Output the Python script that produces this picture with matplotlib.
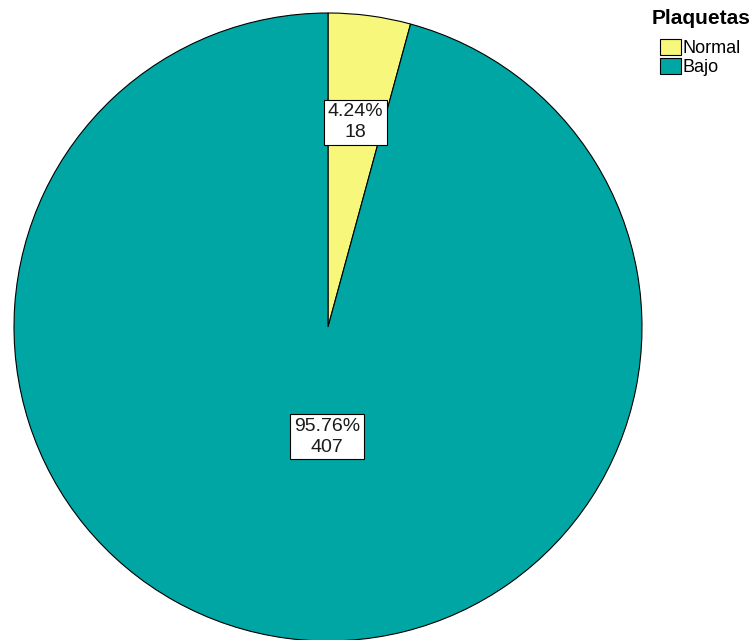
import numpy as np
import matplotlib
matplotlib.use("Agg")
import matplotlib.pyplot as plt
from matplotlib.patches import Patch

plt.rcParams['font.family'] = ['Liberation Sans', 'DejaVu Sans']

# Plaquetas: conteos por categoria
categorias = ['Normal', 'Bajo']
conteos = [18, 407]
porcentajes = [4.24, 95.76]
colores = ['#F7F77C', '#00A6A3']

fig = plt.figure(figsize=(7.56, 6.40), dpi=100)
ax = fig.add_axes([14 / 756, -1 / 640, 628 / 756, 628 / 640])

wedges, _ = ax.pie(conteos, colors=colores, startangle=90, counterclock=False,
                   radius=1.0, wedgeprops=dict(edgecolor='black', linewidth=0.8))
ax.set_xlim(-1, 1)
ax.set_ylim(-1, 1)
ax.set_aspect('equal')
ax.axis('off')

# etiquetas con porcentaje y conteo dentro de cada sector
# (distancia al centro, ajuste de angulo en grados)
ubicacion = [(0.658, 0.0), (0.35, 7.1)]
for w, pct, n, (d, dang) in zip(wedges, porcentajes, conteos, ubicacion):
    ang = np.deg2rad((w.theta1 + w.theta2) / 2 + dang)
    ax.text(d * np.cos(ang), d * np.sin(ang), f'{pct:.2f}%\n{n}',
            ha='center', va='center', fontsize=14, linespacing=1.3,
            color='#1a1a1a',
            bbox=dict(boxstyle='square,pad=0.18', facecolor='white',
                      edgecolor='black', linewidth=0.8))

# leyenda: titulo aparte y entradas debajo
fig.text(652 / 756, 1 - 18 / 640, 'Plaquetas', ha='left', va='center',
         fontsize=15, fontweight='bold')
handles = [Patch(facecolor=c, edgecolor='black', linewidth=0.8) for c in colores]
fig.legend(handles, categorias, loc='upper left',
           bbox_to_anchor=(658 / 756, 1 - 37 / 640),
           frameon=False, fontsize=13,
           handlelength=1.15, handleheight=1.0, handletextpad=0.08,
           labelspacing=0.05, borderpad=0.1, borderaxespad=0)

fig.savefig('out.png', dpi=100)
